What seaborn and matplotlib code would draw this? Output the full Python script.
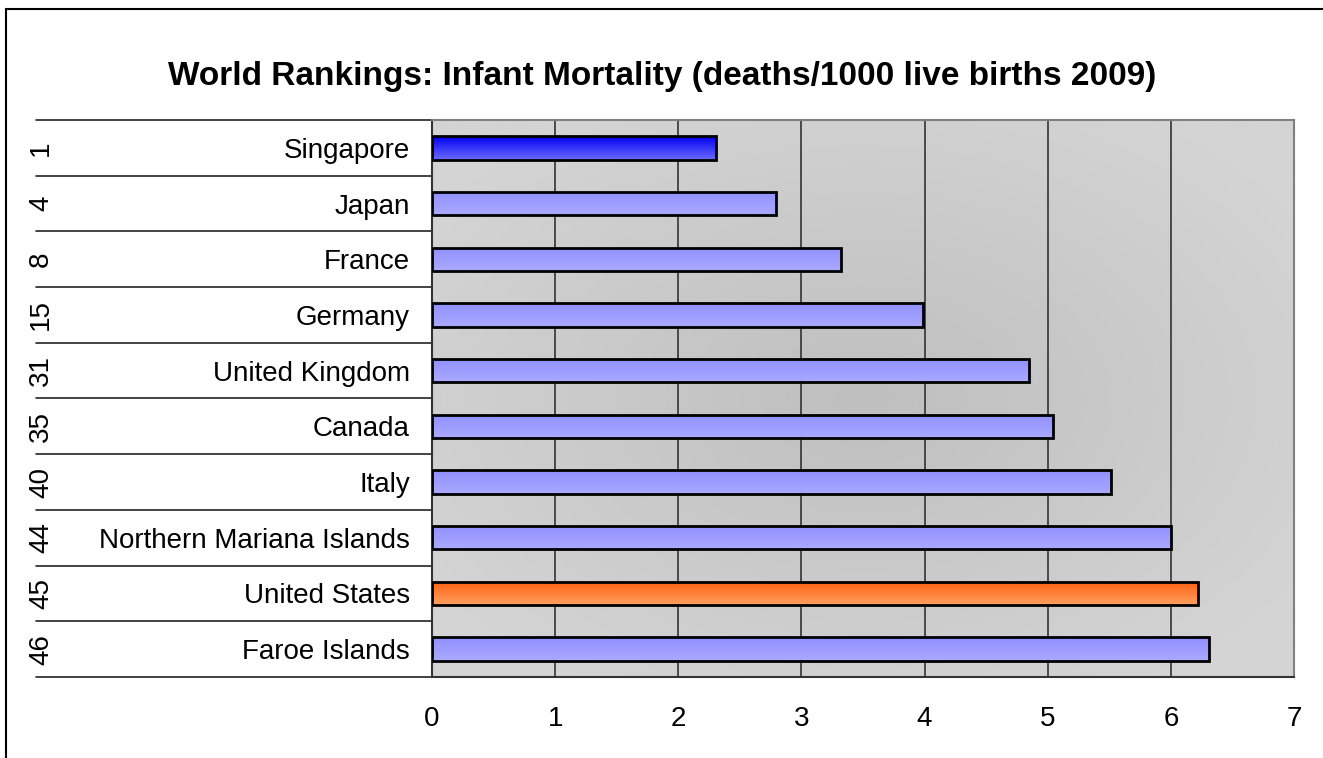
"""Horizontal bar chart: infant mortality world rankings, Excel-style."""

import matplotlib.pyplot as plt
import matplotlib.transforms as mtransforms
import numpy as np
import pandas as pd
import seaborn as sns
from matplotlib.colors import LinearSegmentedColormap
from matplotlib.patches import Rectangle

countries = [
    "Singapore", "Japan", "France", "Germany", "United Kingdom",
    "Canada", "Italy", "Northern Mariana Islands", "United States", "Faroe Islands",
]
ranks = ["1", "4", "8", "15", "31", "35", "40", "44", "45", "46"]
deaths = [2.31, 2.79, 3.32, 3.99, 4.85, 5.04, 5.51, 6.00, 6.22, 6.31]
bar_kind = ["top", "other", "other", "other", "other",
            "other", "other", "other", "us", "other"]
x_ticks = [0, 1, 2, 3, 4, 5, 6, 7]

GRADIENTS = {
    "top": ["#0000f0", "#6a6aff"],
    "other": ["#9090ff", "#aaaaff"],
    "us": ["#ff6010", "#ffa060"],
}

df = pd.DataFrame({"country": countries, "rank": ranks, "deaths": deaths, "kind": bar_kind})

sns.set_style("white")
plt.rcParams["font.family"] = ["Liberation Sans", "DejaVu Sans"]
plt.rcParams["text.color"] = "black"
plt.rcParams["xtick.color"] = "black"
plt.rcParams["ytick.color"] = "black"

W, H = 1323, 758
fig = plt.figure(figsize=(W / 100, H / 100), dpi=100)
ax = fig.add_axes([432 / W, (H - 677) / H, (1294 - 432) / W, (677 - 120) / H])

sns.barplot(data=df, x="deaths", y="country", orient="h", width=0.42,
            color="#9999ff", edgecolor="black", linewidth=2, ax=ax, zorder=3)

ax.set_xlim(0, 7)
ax.set_ylim(len(countries) - 0.5, -0.5)

# plot-area background: soft radial gray gradient
yy, xx = np.mgrid[-1:1:200j, -1:1:300j]
r = np.clip(np.sqrt(xx ** 2 + yy ** 2) / 1.2, 0, 1)
bg_cmap = LinearSegmentedColormap.from_list("bg", ["#bfbfbf", "#d4d4d4"])
ax.imshow(r, cmap=bg_cmap, extent=[0, 7, len(countries) - 0.5, -0.5],
          aspect="auto", zorder=0, interpolation="bilinear")

# vertical gridlines
for t in x_ticks[1:-1]:
    ax.axvline(t, color="#333333", lw=1.2, zorder=1)

# gradient fill for each bar, clipped to the bar
grad = np.linspace(0, 1, 64).reshape(-1, 1)
for patch, kind in zip(ax.patches, df["kind"]):
    x0, y0 = patch.get_x(), patch.get_y()
    w, h = patch.get_width(), patch.get_height()
    cmap = LinearSegmentedColormap.from_list(kind, GRADIENTS[kind])
    patch.set_facecolor("none")
    im = ax.imshow(grad, cmap=cmap, extent=[x0, x0 + w, y0 + h, y0],
                   aspect="auto", zorder=2, interpolation="bilinear")
    im.set_clip_path(patch)

ax.set_xticks(x_ticks)
ax.set_xticklabels([str(t) for t in x_ticks], fontsize=20)
ax.tick_params(axis="x", direction="out", length=7, width=1.2, color="black", pad=14)
ax.tick_params(axis="y", length=0, pad=16, labelsize=20)
ax.set_xlabel("")
ax.set_ylabel("")

for side in ["top", "right"]:
    ax.spines[side].set_color("#808080")
    ax.spines[side].set_linewidth(1.5)
for side in ["left", "bottom"]:
    ax.spines[side].set_color("#333333")
    ax.spines[side].set_linewidth(1.5)

# multi-level category labels on the left
blend = mtransforms.blended_transform_factory(fig.transFigure, ax.transData)
for i in range(len(countries) + 1):
    ax.plot([36 / W, 432 / W], [i - 0.5, i - 0.5], transform=blend,
            color="#222222", lw=1.2, clip_on=False)
for i, rk in enumerate(ranks):
    ax.text(41 / W, i, rk, transform=blend, rotation=90, fontsize=20,
            ha="center", va="center")

fig.suptitle("World Rankings: Infant Mortality (deaths/1000 live births 2009)",
             x=(164 + 1160) / 2 / W, y=1 - 76 / H, va="center",
             fontsize=24, fontweight="bold")

# outer chart border (left and top edges visible)
fig.patches.append(Rectangle((6 / W, -0.05), 1.2, 1 - 9 / H + 0.05,
                             transform=fig.transFigure, fill=False,
                             edgecolor="black", lw=1.5))

fig.savefig("out.png", dpi=100)
